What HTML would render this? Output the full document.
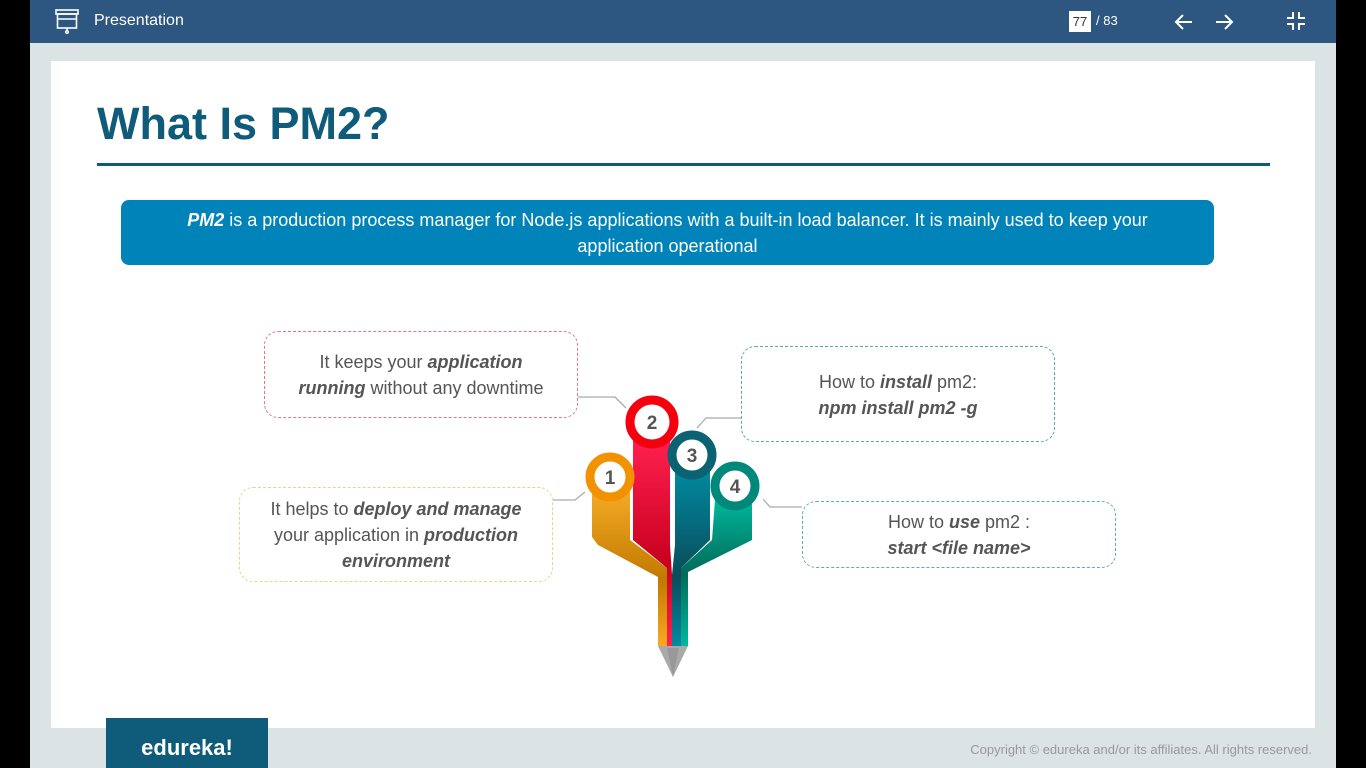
<!DOCTYPE html>
<html><head><style>
*{margin:0;padding:0;box-sizing:border-box}
html,body{width:1366px;height:768px;overflow:hidden}
body{background:#000;position:relative;font-family:"Liberation Sans",sans-serif}
.main{position:absolute;left:30px;top:0;width:1306px;height:768px;background:#dce3e5}
.bar{position:absolute;left:30px;top:0;width:1306px;height:43px;background:#2d5680;color:#fff}
.slide{position:absolute;left:51px;top:61px;width:1264px;height:667px;background:#fff}
.box{position:absolute;border:1.5px dashed;border-radius:14px;text-align:center;font-size:18px;color:#555;line-height:26px}
</style></head><body>
<div class="main"></div>
<div class="bar">
<svg style="position:absolute;left:24px;top:8px" width="26" height="26" viewBox="0 0 26 26" fill="none" stroke="#fff" stroke-width="1.6"><rect x="2" y="2" width="22" height="4"/><rect x="3.5" y="6" width="19" height="14"/><line x1="3.5" y1="11" x2="22.5" y2="11"/><line x1="13" y1="20" x2="13" y2="23"/><circle cx="13" cy="24" r="1.3"/></svg>
<div style="position:absolute;left:64px;top:12px;font-size:16px">Presentation</div>
<div style="position:absolute;left:1039px;top:11px;width:22px;height:21px;background:#fff;color:#333;font-size:13px;text-align:center;line-height:21px">77</div>
<div style="position:absolute;left:1066px;top:13px;font-size:13px">/ 83</div>
<svg style="position:absolute;left:1144px;top:12px" width="20" height="20" viewBox="0 0 20 20" fill="none" stroke="#fff" stroke-width="2"><line x1="2" y1="10" x2="18" y2="10"/><polyline points="9,3 2,10 9,17"/></svg>
<svg style="position:absolute;left:1184px;top:12px" width="20" height="20" viewBox="0 0 20 20" fill="none" stroke="#fff" stroke-width="2"><line x1="2" y1="10" x2="18" y2="10"/><polyline points="11,3 18,10 11,17"/></svg>
<svg style="position:absolute;left:1256px;top:11px" width="20" height="20" viewBox="0 0 20 20" fill="none" stroke="#fff" stroke-width="2"><polyline points="1,7 7,7 7,1"/><polyline points="13,1 13,7 19,7"/><polyline points="1,13 7,13 7,19"/><polyline points="13,19 13,13 19,13"/></svg>
</div>
<div class="slide"></div>
<div style="position:absolute;left:97px;top:98px;font-size:45px;font-weight:bold;color:#0f5b7a">What Is PM2?</div>
<div style="position:absolute;left:97px;top:163px;width:1173px;height:3px;background:#0f5b7a"></div>
<div style="position:absolute;left:121px;top:200px;width:1093px;height:65px;background:#0083b8;border-radius:8px;color:#fff;font-size:18px;line-height:26px;text-align:center;padding:7px 40px 0"><b><i>PM2</i></b> is a production process manager for Node.js applications with a built-in load balancer. It is mainly used to keep your application operational</div>
<div class="box" style="left:264px;top:331px;width:314px;height:87px;border-color:#e8738a;padding-top:17px">It keeps your <b><i>application</i></b><br><b><i>running</i></b> without any downtime</div>
<div class="box" style="left:741px;top:346px;width:314px;height:96px;border-color:#5aa8a8;padding-top:22px">How to <b><i>install</i></b> pm2:<br><b><i>npm install pm2 -g</i></b></div>
<div class="box" style="left:239px;top:487px;width:314px;height:95px;border-color:#f5cf8a;padding-top:8px">It helps to <b><i>deploy and manage</i></b><br>your application in <b><i>production</i></b><br><b><i>environment</i></b></div>
<div class="box" style="left:802px;top:501px;width:314px;height:67px;border-color:#5ab0a8;padding-top:7px">How to <b><i>use</i></b> pm2 :<br><b><i>start &lt;file name&gt;</i></b></div>
<svg style="position:absolute;left:0;top:0" width="1366" height="768">
<defs>
<linearGradient id="g1" x1="0" y1="0" x2="0" y2="1"><stop offset="0" stop-color="#fbb02a"/><stop offset=".6" stop-color="#c07a00"/><stop offset="1" stop-color="#fba820"/></linearGradient>
<linearGradient id="g2" x1="0" y1="0" x2="0" y2="1"><stop offset="0" stop-color="#ff2050"/><stop offset=".6" stop-color="#c8001e"/><stop offset="1" stop-color="#ff2050"/></linearGradient>
<linearGradient id="g3" x1="0" y1="0" x2="0" y2="1"><stop offset="0" stop-color="#008aa0"/><stop offset=".6" stop-color="#0a4c5a"/><stop offset="1" stop-color="#008aa0"/></linearGradient>
<linearGradient id="g4" x1="0" y1="0" x2="0" y2="1"><stop offset="0" stop-color="#00b89c"/><stop offset=".5" stop-color="#006a5a"/><stop offset="1" stop-color="#00b89c"/></linearGradient>
</defs>
<g fill="none" stroke="#aaa" stroke-width="1.3">
<polyline points="578,397 615,397 626,408"/><polyline points="741,418 706,418 697,428"/>
<polyline points="553,500 575,500 585,492"/><polyline points="802,507 770,507 763,499"/>
</g>
<polygon fill="url(#g1)" points="592,480 630,480 630,540 667,568 667,646 658,646 658,577 598,545 592,537"/>
<polygon fill="url(#g2)" points="633,440 670,440 670,545 672,575 672,646 667,646 667,568 633,540"/>
<polygon fill="url(#g3)" points="675,470 710,470 710,540 681,568 681,646 672,646 672,575 675,545"/>
<polygon fill="url(#g4)" points="715,500 752,500 752,540 688,572 688,646 681,646 681,568 712,540"/>
<polygon fill="#aaa" points="658,646 688,646 673,677"/><polygon fill="#999" points="667,648 679,648 673,677"/>
<g stroke-width="9" fill="#fff" font-family="Liberation Sans" font-weight="bold" font-size="19" text-anchor="middle">
<circle cx="610" cy="477" r="20" stroke="#f39200"/><text x="610" y="484" fill="#555" stroke="none">1</text>
<circle cx="652" cy="422" r="22" stroke="#f5000f"/><text x="652" y="429" fill="#555" stroke="none">2</text>
<circle cx="692" cy="455" r="20" stroke="#0a6272"/><text x="692" y="462" fill="#555" stroke="none">3</text>
<circle cx="735" cy="486" r="20" stroke="#00897b"/><text x="735" y="493" fill="#555" stroke="none">4</text>
</g>
</svg>
<div style="position:absolute;left:106px;top:718px;width:162px;height:50px;background:#0f5b7a;color:#fff;font-size:22px;font-weight:bold;text-align:center;line-height:60px">edureka!</div>
<div style="position:absolute;right:54px;top:742px;font-size:13px;color:#999">Copyright © edureka and/or its affiliates. All rights reserved.</div>
</body></html>
